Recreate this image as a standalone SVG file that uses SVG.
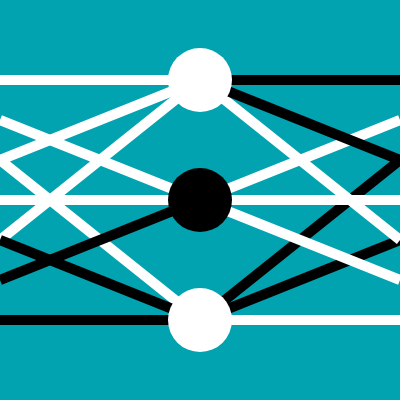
<svg xmlns="http://www.w3.org/2000/svg" width="400" height="400" viewBox="0 0 400 400">
<style>
.w{stroke:#ffffff;stroke-width:10;fill:none}
.b{stroke:#000000;stroke-width:10;fill:none}
</style>
<rect width="400" height="400" fill="#00A3AF"/>
<g id="connectors">
<line class="b" x1="200" y1="320" x2="400" y2="160"/>
<line class="b" x1="200" y1="320" x2="400" y2="240"/>
<line class="w" x1="0" y1="80" x2="200" y2="80"/>
<line class="w" x1="0" y1="200" x2="400" y2="200"/>
<line class="w" x1="200" y1="320" x2="400" y2="320"/>
<line class="w" x1="0" y1="120" x2="200" y2="200"/>
<line class="w" x1="0" y1="160" x2="200" y2="80"/>
<line class="w" x1="0" y1="160" x2="200" y2="320"/>
<line class="w" x1="0" y1="240" x2="200" y2="80"/>
<line class="w" x1="200" y1="80" x2="400" y2="240"/>
<line class="w" x1="200" y1="200" x2="400" y2="120"/>
<line class="w" x1="200" y1="200" x2="400" y2="280"/>
<line class="b" x1="200" y1="80" x2="400" y2="80"/>
<line class="b" x1="200" y1="80" x2="400" y2="160"/>
<line class="b" x1="0" y1="320" x2="200" y2="320"/>
<line class="b" x1="0" y1="240" x2="200" y2="320"/>
<line class="b" x1="0" y1="280" x2="200" y2="200"/>
</g>
<g id="node-top"><circle cx="200" cy="80" r="32" fill="#ffffff"/></g>
<g id="node-middle"><circle cx="200" cy="200" r="32" fill="#000000"/></g>
<g id="node-bottom"><circle cx="200" cy="320" r="32" fill="#ffffff"/></g>
</svg>
